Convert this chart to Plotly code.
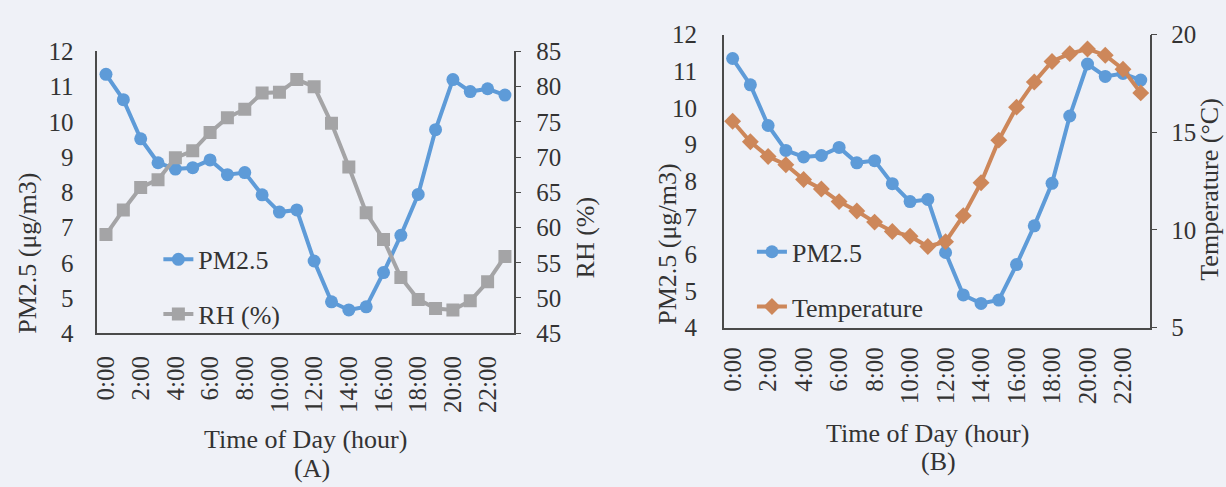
import plotly.graph_objects as go

hours = ["0:00", "1:00", "2:00", "3:00", "4:00", "5:00", "6:00", "7:00",
         "8:00", "9:00", "10:00", "11:00", "12:00", "13:00", "14:00", "15:00",
         "16:00", "17:00", "18:00", "19:00", "20:00", "21:00", "22:00", "23:00"]
tick_hours = ["0:00", "2:00", "4:00", "6:00", "8:00", "10:00",
              "12:00", "14:00", "16:00", "18:00", "20:00", "22:00"]

pm25 = [11.35, 10.63, 9.52, 8.84, 8.66, 8.70, 8.92, 8.50, 8.56, 7.93, 7.44, 7.50,
        6.05, 4.89, 4.66, 4.75, 5.72, 6.78, 7.94, 9.78, 11.20, 10.86, 10.94, 10.76]
rh = [59.0, 62.5, 65.7, 66.8, 69.9, 70.9, 73.5, 75.6, 76.8, 79.1, 79.2, 81.0,
      80.0, 74.8, 68.6, 62.1, 58.3, 52.9, 49.8, 48.5, 48.3, 49.6, 52.3, 55.9]
temperature = [15.57, 14.52, 13.76, 13.34, 12.58, 12.10, 11.45, 10.97, 10.40, 9.92,
               9.68, 9.15, 9.40, 10.73, 12.42, 14.60, 16.29, 17.58, 18.63, 19.03,
               19.27, 18.95, 18.23, 17.02]

BLUE = "#5e9bd8"
GRAY = "#a4a4a6"
ORANGE = "#cd875a"
TXT = "#333333"
AX = "#4a4a4a"
BG = "#eff1f7"
FONT = "Liberation Serif, Times New Roman, serif"
W, H = 1226, 487

fig = go.Figure()

# Panel A
fig.add_trace(go.Scatter(x=hours, y=rh, name="RH (%)", mode="lines+markers",
                         line=dict(color=GRAY, width=4),
                         marker=dict(symbol="square", size=13, color=GRAY),
                         xaxis="x", yaxis="y2", legend="legend", legendgroup="a2",
                         legendrank=2))
fig.add_trace(go.Scatter(x=hours, y=pm25, name="PM2.5", mode="lines+markers",
                         line=dict(color=BLUE, width=4),
                         marker=dict(symbol="circle", size=13, color=BLUE),
                         xaxis="x", yaxis="y", legend="legend", legendgroup="a1",
                         legendrank=1))
# Panel B
fig.add_trace(go.Scatter(x=hours, y=temperature, name="Temperature", mode="lines+markers",
                         line=dict(color=ORANGE, width=4),
                         marker=dict(symbol="diamond", size=13, color=ORANGE),
                         xaxis="x2", yaxis="y4", legend="legend2", legendgroup="b2",
                         legendrank=2))
fig.add_trace(go.Scatter(x=hours, y=pm25, name="PM2.5", mode="lines+markers",
                         line=dict(color=BLUE, width=4),
                         marker=dict(symbol="circle", size=13, color=BLUE),
                         xaxis="x2", yaxis="y3", legend="legend2", legendgroup="b1",
                         legendrank=1))

def px_x(p):
    return p / W

def px_y(p):
    return 1 - p / H

tickfont = dict(family=FONT, size=25, color=TXT)
xcommon = dict(type="category", categoryorder="array", categoryarray=hours,
               range=[-0.5, 23.5], tickmode="array", tickvals=tick_hours,
               ticktext=tick_hours, tickangle=-90, showline=True, linecolor=AX,
               linewidth=1.5, ticks="", showgrid=False, zeroline=False,
               tickfont=tickfont, fixedrange=True)
ycommon = dict(showline=True, linecolor=AX, linewidth=1.5, showgrid=False,
               zeroline=False, tickfont=tickfont, fixedrange=True)

fig.update_layout(
    width=W, height=H,
    margin=dict(l=0, r=0, t=0, b=0),
    paper_bgcolor=BG, plot_bgcolor=BG,
    font=dict(family=FONT, size=25, color=TXT),
    xaxis=dict(domain=[px_x(92.7), px_x(510.7)], anchor="y",
               ticklabelstandoff=11, **xcommon),
    yaxis=dict(domain=[px_y(339), px_y(40.7)], anchor="x", range=[4, 12],
               dtick=1, ticks="", ticklabelstandoff=17, **ycommon),
    yaxis2=dict(domain=[px_y(339), px_y(40.7)], anchor="x", overlaying="y",
                side="right", range=[45, 85], dtick=5, ticks="outside",
                ticklen=6, tickcolor=AX, ticklabelstandoff=10, **ycommon),
    xaxis2=dict(domain=[px_x(721.7), px_x(1149.3)], anchor="y3",
                ticklabelstandoff=8, **xcommon),
    yaxis3=dict(domain=[px_y(333), px_y(23)], anchor="x2", range=[4, 12],
                dtick=1, ticks="", ticklabelstandoff=20, **ycommon),
    yaxis4=dict(domain=[px_y(333), px_y(23)], anchor="x2", overlaying="y3",
                side="right", range=[5, 20], dtick=5, ticks="outside",
                ticklen=6, tickcolor=AX, ticklabelstandoff=9, **ycommon),
    legend=dict(x=px_x(154), y=px_y(236), xanchor="left", yanchor="top",
                bgcolor="rgba(0,0,0,0)", font=dict(family=FONT, size=26, color=TXT),
                traceorder="grouped", tracegroupgap=18, itemwidth=30),
    legend2=dict(x=px_x(750), y=px_y(228), xanchor="left", yanchor="top",
                 bgcolor="rgba(0,0,0,0)", font=dict(family=FONT, size=26, color=TXT),
                 traceorder="grouped", tracegroupgap=18, itemwidth=30),
    showlegend=True,
)

ann_font = dict(family=FONT, size=26, color=TXT)
annotations = [
    dict(text="PM2.5 (μg/m3)", x=px_x(23), y=px_y(254), textangle=-90),
    dict(text="RH (%)", x=px_x(583), y=px_y(238), textangle=-90),
    dict(text="Time of Day (hour)", x=px_x(302), y=px_y(452), textangle=0),
    dict(text="(A)", x=px_x(308), y=px_y(482), textangle=0),
    dict(text="PM2.5 (μg/m3)", x=px_x(665), y=px_y(245), textangle=-90),
    dict(text="Temperature (°C)", x=px_x(1210), y=px_y(187), textangle=-90),
    dict(text="Time of Day (hour)", x=px_x(926), y=px_y(445), textangle=0),
    dict(text="(B)", x=px_x(937), y=px_y(475), textangle=0),
]
for a in annotations:
    fig.add_annotation(xref="paper", yref="paper", showarrow=False,
                       xanchor="center", yanchor="middle", font=ann_font, **a)

fig.write_html("out.html", config={"displayModeBar": False},
               post_script="document.body.style.margin='0';document.body.style.background='" + BG + "';")
